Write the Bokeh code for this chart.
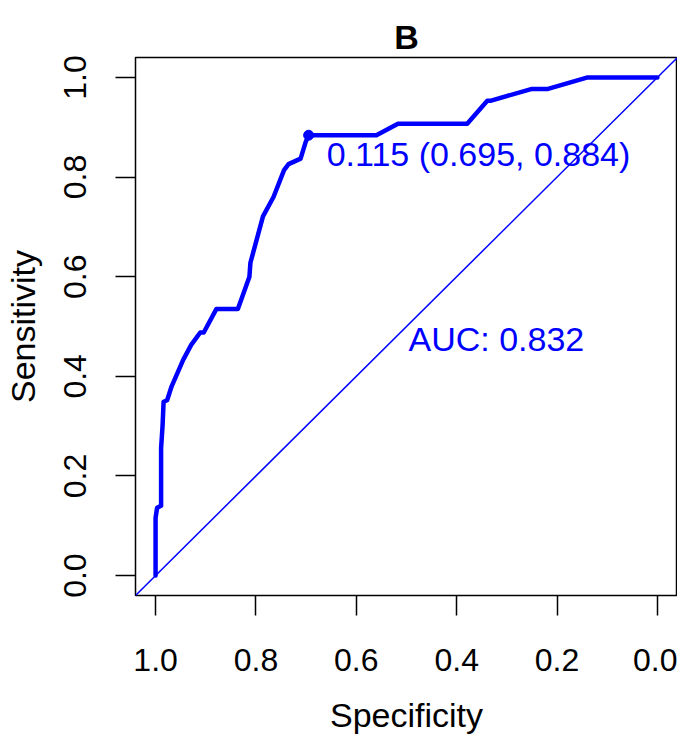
from bokeh.plotting import figure
from bokeh.models import Range1d, FixedTicker, NumeralTickFormatter, LinearAxis
from bokeh.embed import file_html
from bokeh.resources import INLINE
from bokeh.core.properties import value

# ROC curve (specificity, sensitivity)
specificity = [1.000, 1.000, 0.997, 0.989, 0.989, 0.986, 0.984, 0.977, 0.968,
               0.945, 0.929, 0.911, 0.904, 0.879, 0.836, 0.813, 0.811, 0.786,
               0.765, 0.744, 0.735, 0.711, 0.701, 0.695, 0.560, 0.517, 0.379,
               0.339, 0.333, 0.250, 0.218, 0.139, 0.000]
sensitivity = [0.000, 0.116, 0.136, 0.140, 0.256, 0.302, 0.349, 0.352, 0.380,
               0.433, 0.463, 0.488, 0.488, 0.535, 0.535, 0.600, 0.628, 0.721,
               0.760, 0.814, 0.826, 0.837, 0.870, 0.884, 0.884, 0.907, 0.907,
               0.953, 0.953, 0.977, 0.977, 1.000, 1.000]

# chance diagonal (abline a=1, b=-1 on the reversed specificity axis)
diag_spec = [1.2, -0.2]
diag_sens = [-0.2, 1.2]

# best threshold
thr_value = 0.115
thr_spec = [0.695]
thr_sens = [0.884]
auc_value = 0.832

ticks = [0.0, 0.2, 0.4, 0.6, 0.8, 1.0]

FONT = "Liberation Sans"
BLUE = "#0000FF"

p = figure(width=677, height=736, title="B",
           x_range=Range1d(1.04, -0.04), y_range=Range1d(-0.04, 1.04),
           output_backend="svg", toolbar_location=None,
           min_border_left=135, min_border_right=0,
           min_border_top=57, min_border_bottom=135,
           x_axis_label="Specificity", y_axis_label="Sensitivity")

p.title.align = "center"
p.title.vertical_align = "top"
p.title.text_font = FONT
p.title.text_font_size = "34px"
p.title.text_font_style = "bold"
p.title.text_color = "black"
p.title.standoff = 0

p.xgrid.visible = False
p.ygrid.visible = False
p.background_fill_color = "white"
p.border_fill_color = "white"
p.outline_line_color = "black"
p.outline_line_width = 1.5

xa = p.below[0]
ya = p.left[0]
for ax in (xa, ya):
    ax.ticker = FixedTicker(ticks=ticks)
    ax.formatter = NumeralTickFormatter(format="0.0")
    ax.axis_line_color = None
    ax.major_tick_out = 20
    ax.major_tick_in = 0
    ax.minor_tick_out = 0
    ax.minor_tick_in = 0
    ax.major_tick_line_color = "black"
    ax.major_tick_line_width = 1.5
    ax.major_label_text_font = FONT
    ax.major_label_text_font_size = "32px"
    ax.major_label_text_color = "black"
    ax.axis_label_text_font = FONT
    ax.axis_label_text_font_size = "34px"
    ax.axis_label_text_font_style = "normal"
    ax.axis_label_text_color = "black"

xa.major_label_standoff = 33
xa.axis_label_standoff = 22
ya.major_label_orientation = "vertical"
ya.major_label_standoff = 29
ya.axis_label_standoff = 20

# invisible spacer between the title and the plot box
spacer = LinearAxis(ticker=FixedTicker(ticks=[]), axis_line_color=None,
                    major_tick_line_color=None, minor_tick_line_color=None,
                    major_tick_out=20, major_tick_in=0,
                    minor_tick_out=0, minor_tick_in=0,
                    major_label_text_font_size="0px",
                    axis_label_text_font_size="0px")
p.add_layout(spacer, "above")

# diagonal
p.line(diag_spec, diag_sens, line_color=BLUE, line_width=1.5)
# ROC curve
p.line(specificity, sensitivity, line_color=BLUE, line_width=4.5,
       line_join="round", line_cap="round")
# threshold point
p.scatter(thr_spec, thr_sens, size=10, color=BLUE)

p.text(x=thr_spec, y=thr_sens,
       text=[f"{thr_value:.3f} ({thr_spec[0]:.3f}, {thr_sens[0]:.3f})"],
       x_offset=18, y_offset=19, text_color=BLUE, text_font=value(FONT),
       text_font_size="34px", text_baseline="alphabetic", text_align="left")

p.text(x=[0.5], y=[0.5], text=[f"AUC: {auc_value:.3f}"],
       x_offset=2, y_offset=12, text_color=BLUE, text_font=value(FONT),
       text_font_size="34px", text_baseline="alphabetic", text_align="left")

open("out.html", "w").write(file_html(p, INLINE))
